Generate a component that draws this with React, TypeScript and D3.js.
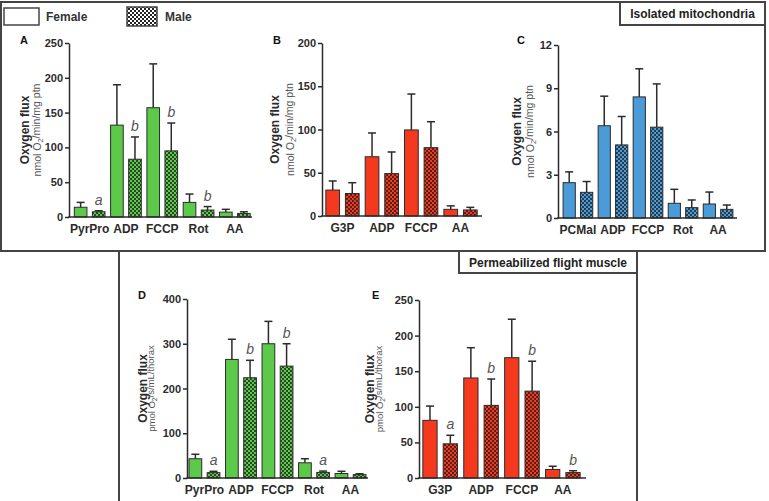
import * as d3 from "d3";
import { useEffect, useRef } from "react";

// substrate groups and mean ± SD per sex, one set per panel
const groupsA = ["PyrPro", "ADP", "FCCP", "Rot", "AA"];
const femaleA = [14, 132, 157, 21, 7];
const femaleSdA = [7, 58, 63, 12, 4];
const maleA = [7.5, 83, 95, 10, 5];
const maleSdA = [1.5, 32, 40, 5, 2.5];
const lettersA = ["a", "b", "b", "b", ""];

const groupsB = ["G3P", "ADP", "FCCP", "AA"];
const femaleB = [30, 68.5, 99.5, 7.7];
const femaleSdB = [10.5, 27.5, 41.5, 4];
const maleB = [26, 49, 79, 7];
const maleSdB = [12.5, 25, 30, 3];
const lettersB = ["", "", "", ""];

const groupsC = ["PCMal", "ADP", "FCCP", "Rot", "AA"];
const femaleC = [2.45, 6.4, 8.4, 1.02, 0.97];
const femaleSdC = [0.75, 2.05, 1.95, 0.97, 0.83];
const maleC = [1.78, 5.07, 6.3, 0.72, 0.6];
const maleSdC = [0.75, 1.97, 3.0, 0.53, 0.3];
const lettersC = ["", "", "", "", ""];

const groupsD = ["PyrPro", "ADP", "FCCP", "Rot", "AA"];
const femaleD = [43, 265, 300, 34, 10];
const femaleSdD = [10, 45, 50, 9, 5];
const maleD = [12, 224, 250, 12.5, 7.5];
const maleSdD = [3, 39, 50, 3, 2];
const lettersD = ["a", "b", "b", "a", ""];

const groupsE = ["G3P", "ADP", "FCCP", "AA"];
const femaleE = [81, 140.5, 169, 12];
const femaleSdE = [20, 42.5, 54, 4.5];
const maleE = [48, 102, 122, 7.6];
const maleSdE = [12, 37, 42, 2.6];
const lettersE = ["a", "b", "b", "b"];

const yTicksA = [0, 50, 100, 150, 200, 250];
const yTicksB = [0, 50, 100, 150, 200];
const yTicksC = [0, 3, 6, 9, 12];
const yTicksD = [0, 100, 200, 300, 400];
const yTicksE = [0, 50, 100, 150, 200, 250];

const GREEN = "#5cc94b";
const RED = "#f4391f";
const BLUE = "#4a9bd8";
const INK = "#2b2b2b";
const FONT = "'Liberation Sans', Arial, Helvetica, sans-serif";

type Panel = {
  id: string;
  letter: string;
  groups: string[];
  female: number[];
  femaleSd: number[];
  male: number[];
  maleSd: number[];
  letters: string[];
  ticks: number[];
  color: string;
  unit: string;
  unitSub: string;
  axisX: number;
  band: [number, number];
  axisEnd: number;
  yRange: [number, number];
  titleDx: number;
  unitDx: number;
  letterPos: [number, number];
};

const PANELS: Panel[] = [
  {
    id: "A", letter: "A", groups: groupsA, female: femaleA, femaleSd: femaleSdA, male: maleA, maleSd: maleSdA,
    letters: lettersA, ticks: yTicksA, color: GREEN, unit: "nmol O", unitSub: "/min/mg ptn",
    axisX: 69, band: [71.5, 253], axisEnd: 252, yRange: [217, 43], titleDx: -44, unitDx: -32, letterPos: [20, 44],
  },
  {
    id: "B", letter: "B", groups: groupsB, female: femaleB, femaleSd: femaleSdB, male: maleB, maleSd: maleSdB,
    letters: lettersB, ticks: yTicksB, color: RED, unit: "nmol O", unitSub: "/min/mg ptn",
    axisX: 322, band: [322.8, 480.2], axisEnd: 482, yRange: [216, 43], titleDx: -47, unitDx: -32, letterPos: [273, 44],
  },
  {
    id: "C", letter: "C", groups: groupsC, female: femaleC, femaleSd: femaleSdC, male: maleC, maleSd: maleSdC,
    letters: lettersC, ticks: yTicksC, color: BLUE, unit: "nmol O", unitSub: "/min/mg ptn",
    axisX: 558, band: [560.4, 735.6], axisEnd: 737, yRange: [218, 45], titleDx: -41, unitDx: -28, letterPos: [517, 44],
  },
  {
    id: "D", letter: "D", groups: groupsD, female: femaleD, femaleSd: femaleSdD, male: maleD, maleSd: maleSdD,
    letters: lettersD, ticks: yTicksD, color: GREEN, unit: "pmol O", unitSub: "/s/mL/thorax",
    axisX: 187, band: [186.2, 368.8], axisEnd: 368, yRange: [478, 299], titleDx: -44, unitDx: -35, letterPos: [138, 299],
  },
  {
    id: "E", letter: "E", groups: groupsE, female: femaleE, femaleSd: femaleSdE, male: maleE, maleSd: maleSdE,
    letters: lettersE, ticks: yTicksE, color: RED, unit: "pmol O", unitSub: "/s/mL/thorax",
    axisX: 419, band: [419.7, 583.3], axisEnd: 586, yRange: [478, 300], titleDx: -49, unitDx: -39, letterPos: [372, 299],
  },
];

function drawPanel(svg: d3.Selection<SVGSVGElement, unknown, null, undefined>, p: Panel) {
  const g = svg.append("g").attr("class", `panel-${p.id}`);
  const y = d3.scaleLinear().domain([0, p.ticks[p.ticks.length - 1]]).range(p.yRange);
  const x = d3.scaleBand<string>().domain(p.groups).range(p.band).padding(0);
  const sex = d3.scaleBand<string>().domain(["F", "M"]).range([0, x.bandwidth()]).paddingInner(0.3).paddingOuter(0.155);

  const rows = p.groups.flatMap((grp, i) => [
    { grp, s: "F", v: p.female[i], sd: p.femaleSd[i], mark: "" },
    { grp, s: "M", v: p.male[i], sd: p.maleSd[i], mark: p.letters[i] },
  ]);
  const bx = (d: { grp: string; s: string }) => (x(d.grp) ?? 0) + (sex(d.s) ?? 0);
  const bw = sex.bandwidth();
  const base = y(0);

  // error whiskers go behind the bars so only the upper half shows
  const err = g.append("g").attr("stroke", INK).attr("stroke-width", 1.5);
  rows.forEach((d) => {
    const cx = bx(d) + bw / 2;
    const top = y(d.v + d.sd);
    err.append("line").attr("x1", cx).attr("x2", cx).attr("y1", y(d.v)).attr("y2", top);
    err.append("line").attr("x1", cx - 4).attr("x2", cx + 4).attr("y1", top).attr("y2", top);
  });

  g.append("g")
    .selectAll("rect")
    .data(rows)
    .join("rect")
    .attr("x", (d) => bx(d))
    .attr("y", (d) => y(d.v))
    .attr("width", bw)
    .attr("height", (d) => base - y(d.v))
    .attr("fill", (d) => (d.s === "F" ? p.color : `url(#check-${p.color.slice(1)})`))
    .attr("stroke", INK)
    .attr("stroke-width", 1);

  // significance letters above male bars
  g.append("g")
    .selectAll("text")
    .data(rows.filter((d) => d.mark))
    .join("text")
    .attr("x", (d) => bx(d) + bw / 2)
    .attr("y", (d) => y(d.v + d.sd) - 6)
    .attr("text-anchor", "middle")
    .attr("font-family", FONT)
    .attr("font-style", "italic")
    .attr("font-size", 14)
    .attr("fill", "#555")
    .text((d) => d.mark);

  // y axis
  const ya = g
    .append("g")
    .attr("transform", `translate(${p.axisX},0)`)
    .call(d3.axisLeft(y).tickValues(p.ticks).tickSizeInner(4).tickSizeOuter(0).tickPadding(2));
  ya.select(".domain").attr("stroke", INK).attr("stroke-width", 1.5);
  ya.selectAll(".tick line").attr("stroke", INK).attr("stroke-width", 1.5);
  ya.selectAll(".tick text")
    .attr("font-family", FONT)
    .attr("font-weight", "bold")
    .attr("font-size", 11)
    .attr("fill", INK);

  // x axis baseline and category labels
  g.append("line")
    .attr("x1", p.axisX - 0.75)
    .attr("x2", p.axisEnd)
    .attr("y1", base)
    .attr("y2", base)
    .attr("stroke", INK)
    .attr("stroke-width", 1.5);
  const xa = g
    .append("g")
    .attr("transform", `translate(0,${base})`)
    .call(d3.axisBottom(x).tickSize(0).tickPadding(7));
  xa.select(".domain").remove();
  xa.selectAll(".tick text")
    .attr("font-family", FONT)
    .attr("font-weight", "bold")
    .attr("font-size", 12)
    .attr("fill", INK);

  // axis titles
  const midY = (p.yRange[0] + p.yRange[1]) / 2;
  g.append("text")
    .attr("transform", `translate(${p.axisX + p.titleDx},${midY}) rotate(-90)`)
    .attr("text-anchor", "middle")
    .attr("dy", "0.35em")
    .attr("font-family", FONT)
    .attr("font-weight", "bold")
    .attr("font-size", 12)
    .attr("fill", INK)
    .text("Oxygen flux");
  const unit = g
    .append("text")
    .attr("transform", `translate(${p.axisX + p.unitDx},${midY}) rotate(-90)`)
    .attr("text-anchor", "middle")
    .attr("dy", "0.35em")
    .attr("font-family", FONT)
    .attr("font-size", p.id === "D" || p.id === "E" ? 9.5 : 10.5)
    .attr("fill", "#555");
  unit.append("tspan").text(p.unit);
  unit.append("tspan").attr("font-size", "70%").attr("dy", "0.3em").text("2");
  unit.append("tspan").attr("dy", "-0.3em").text(p.unitSub);

  g.append("text")
    .attr("x", p.letterPos[0])
    .attr("y", p.letterPos[1])
    .attr("font-family", FONT)
    .attr("font-weight", "bold")
    .attr("font-size", 11)
    .attr("fill", "#111")
    .text(p.letter);
}

export default function App() {
  const ref = useRef<SVGSVGElement | null>(null);

  useEffect(() => {
    document.body.style.margin = "0";
    const node = ref.current;
    if (!node) return;
    const svg = d3.select(node);
    svg.selectAll("*").remove();

    const defs = svg.append("defs");
    const checker = (id: string, bg: string, fg: string, op: number) => {
      const pat = defs
        .append("pattern")
        .attr("id", id)
        .attr("patternUnits", "userSpaceOnUse")
        .attr("width", 4)
        .attr("height", 4);
      pat.append("rect").attr("width", 4).attr("height", 4).attr("fill", bg);
      pat.append("rect").attr("width", 2).attr("height", 2).attr("fill", fg).attr("opacity", op);
      pat.append("rect").attr("x", 2).attr("y", 2).attr("width", 2).attr("height", 2).attr("fill", fg).attr("opacity", op);
    };
    [GREEN, RED, BLUE].forEach((c) => checker(`check-${c.slice(1)}`, c, "#1a1a1a", 0.75));
    checker("check-legend", "#fff", "#222", 1);

    svg.append("rect").attr("width", 769).attr("height", 501).attr("fill", "#fff");

    // frames around the two experiment sets
    const frame = svg.append("g").attr("fill", "none").attr("stroke", "#444").attr("stroke-width", 2);
    frame.append("rect").attr("x", 1).attr("y", 2).attr("width", 764).attr("height", 249);
    frame.append("path").attr("d", "M119,251 V502 M637,251 V502");
    frame.append("rect").attr("x", 620).attr("y", 2).attr("width", 145).attr("height", 23).attr("fill", "#fff");
    frame.append("rect").attr("x", 459).attr("y", 251).attr("width", 178).attr("height", 22).attr("fill", "#fff");

    const label = (x: number, yy: number, t: string) =>
      svg
        .append("text")
        .attr("x", x)
        .attr("y", yy)
        .attr("text-anchor", "middle")
        .attr("font-family", FONT)
        .attr("font-weight", "bold")
        .attr("font-size", 12)
        .attr("fill", "#222")
        .text(t);
    label(692.5, 18, "Isolated mitochondria");
    label(548, 267, "Permeabilized flight muscle");

    // legend
    svg.append("rect").attr("x", 4).attr("y", 8).attr("width", 35).attr("height", 17)
      .attr("fill", "#fff").attr("stroke", "#444").attr("stroke-width", 1.5);
    svg.append("rect").attr("x", 127).attr("y", 7).attr("width", 30).attr("height", 19)
      .attr("fill", "url(#check-legend)").attr("stroke", "#444").attr("stroke-width", 1.5);
    [["Female", 46], ["Male", 165]].forEach(([t, x]) =>
      svg.append("text").attr("x", x as number).attr("y", 21).attr("font-family", FONT)
        .attr("font-weight", "bold").attr("font-size", 12).attr("fill", "#333").text(t as string)
    );

    PANELS.forEach((p) => drawPanel(svg, p));
  }, []);

  return <svg ref={ref} width={769} height={501} style={{ display: "block" }} />;
}
